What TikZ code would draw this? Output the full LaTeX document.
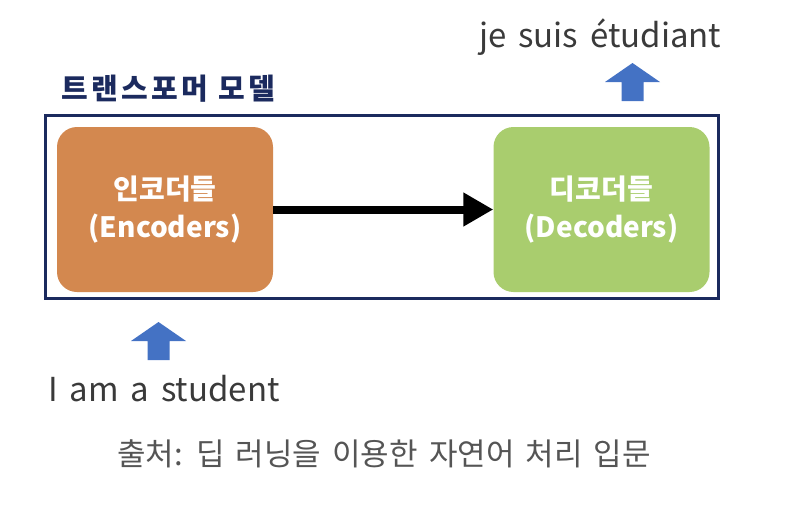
\documentclass[tikz,border=0pt]{standalone}
\usepackage{fontspec}
\setmainfont{Noto Sans CJK KR}
\newfontfamily\titlefont[LetterSpace=12]{Noto Sans CJK KR}
\newfontfamily\loosefont[WordSpace=1.6]{Noto Sans CJK KR}
\usetikzlibrary{arrows.meta,calc}
\definecolor{navy}{HTML}{1B2A5E}
\definecolor{encfill}{HTML}{D3884F}
\definecolor{decfill}{HTML}{A9CD6E}
\definecolor{upblue}{HTML}{4472C4}
\definecolor{txtgray}{HTML}{3A3A3A}
\definecolor{capgray}{HTML}{555555}
\tikzset{
  block/.style={rounded corners=20pt, minimum width=216pt, minimum height=165pt,
    text=white, align=center, font=\fontsize{28}{38}\selectfont\bfseries, inner sep=0pt},
  label/.style={text=txtgray, font=\loosefont\fontsize{33}{38}\selectfont, inner sep=0pt}
}
% a broad upward block arrow with its tip at the given coordinate
\newcommand{\uparrowat}[1]{%
  \fill[upblue] ($(#1)+(-27.5,19)$) -- ($(#1)+(0,0)$) -- ($(#1)+(27.5,19)$)
    -- ($(#1)+(11,19)$) -- ($(#1)+(11,38)$) -- ($(#1)+(-11,38)$) -- ($(#1)+(-11,19)$) -- cycle;}
\begin{document}
\begin{tikzpicture}[x=1pt, y=-1pt]
  \useasboundingbox (0,0) rectangle (785,507);
  % outer frame
  \draw[navy, line width=3pt] (45,115) rectangle (718,298);
  \node[anchor=base west, text=navy, font=\titlefont\fontsize{29}{32}\selectfont\bfseries, inner sep=0pt]
    (title) at (61,99) {트랜스포머 모델};
  % blocks
  \node[block, fill=encfill] (enc) at (165,209.5) {인코더들\\(Encoders)};
  \node[block, fill=decfill] (dec) at (601.5,209.5) {디코더들\\(Decoders)};
  \draw[line width=8pt, -{Triangle[length=30pt, width=32pt]}] (enc.east) -- (dec.west);
  % input and output
  \coordinate (inTip) at (158.5,322);
  \coordinate (outTip) at (632.5,63);
  \uparrowat{inTip}
  \uparrowat{outTip}
  \node[label, anchor=base west] (src) at (48,401) {I am a student};
  \node[label, anchor=base west] (tgt) at (479,47) {je suis étudiant};
  % source line
  \node[text=capgray, font=\loosefont\fontsize{31}{36}\selectfont, inner sep=0pt] (cap) at (384,454)
    {출처: 딥 러닝을 이용한 자연어 처리 입문};
\end{tikzpicture}
\end{document}
